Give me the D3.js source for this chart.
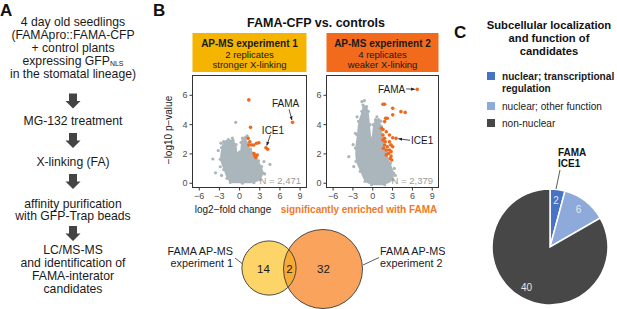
<!DOCTYPE html>
<html>
<head>
<meta charset="utf-8">
<script src="https://cdn.jsdelivr.net/npm/d3@7"></script>
<style>
  body { margin: 0; background: #fff; }
  text { font-family: "Liberation Sans", Arial, sans-serif; }
</style>
</head>
<body>
<div id="fig"></div>
<script>
// ---- data ----
var flowSteps = [
    ["4 day old seedlings", "(FAMApro::FAMA-CFP", "+ control plants", "expressing GFP|NLS", "in the stomatal lineage)"],
    ["MG-132 treatment"],
    ["X-linking (FA)"],
    ["affinity purification", "with GFP-Trap beads"],
    ["LC/MS-MS", "and identification of", "FAMA-interator", "candidates"]
];

var xTicks = [-6, -3, 0, 3, 6, 9];
var yTicks = [0, 2, 4, 6];

var experiments = ["AP-MS experiment 1", "AP-MS experiment 2"];
var replicates = ["2 replicates", "4 replicates"];
var linking = ["stronger X-linking", "weaker X-linking"];
var proteinCounts = ["N = 2,471", "N = 2,379"];

// outline of the dense grey cloud (log2 fold change, -log10 p)
var cloud1 = [[-1.3,0.02],[-1.8,0.3],[-2.3,0.9],[-2.8,1.6],[-2.6,2.4],[-2.3,2.8],[-1.6,2.95],[-0.9,2.9],[-0.45,2.6],
    [-0.15,2.0],[0.1,2.1],[0.3,2.75],[0.5,3.05],[0.95,3.1],[1.3,2.7],[1.7,2.3],[2.35,1.95],[2.9,1.5],[3.35,1.1],
    [3.6,0.65],[3.1,0.2],[2.2,0.0],[0.5,-0.03]];
var cloud2 = [[-0.1,-0.13],[-1.08,0.1],[-1.82,0.78],[-2.45,1.46],[-2.55,2.37],[-2.31,3.28],[-2.07,4.19],[-1.57,4.87],
    [-1.4,5.3],[-0.85,5.2],[-0.59,4.87],[-0.34,3.96],[-0.1,3.05],[0.15,3.96],[0.49,4.3],[0.98,4.3],[1.38,3.85],
    [1.62,3.05],[2.12,2.14],[2.76,1.34],[3.25,0.66],[3.1,0.2],[1.87,-0.13]];

// scattered grey proteins outside the cloud
var grey1 = [[-0.5,4.12],[-3.9,1.62],[-2.8,1.09],[-3.5,0.68],[4.6,1.25],[3.7,1.45],[-3.1,2.2],[-2.7,2.7],
    [1.2,3.2],[-1.0,3.05],[3.8,0.6],[-2.6,0.5]];
var grey2 = [[-3.55,1.78],[-2.55,3.37],[-1.57,5.53],[3.35,0.98],[3.5,0.5],[-2.9,2.6],[-1.2,5.6],[0.7,4.5],
    [-2.3,4.5],[2.7,2.6],[-2.8,1.1],[1.3,4.2]];

// significantly enriched proteins (orange)
var orange1 = [[1.45,5.65],[1.7,3.78],[7.95,4.12,"FAMA"],[1.35,3.03],[1.6,2.8],[1.86,2.57],[1.45,2.57],[2.2,2.57],
    [2.6,2.69],[2.95,2.73],[4.0,2.39,"ICE1"],[4.25,2.28],[2.2,2.0],[2.35,1.82],[2.7,1.89],[2.5,1.73]];
var orange2 = [[6.8,6.37,"FAMA"],[1.62,5.35],[1.87,5.35],[3.1,5.08],[4.34,4.85],[4.98,4.8],[3.1,4.63],[2.02,4.4],
    [2.27,4.4],[1.88,4.17],[1.38,3.71],[1.62,3.64],[2.12,3.48],[2.6,3.26],[3.1,3.07],[3.6,3.03,"ICE1"],[1.62,3.26],
    [1.87,3.03],[2.6,2.8],[1.62,2.91],[1.88,2.57],[2.27,2.46],[2.85,2.57],[3.1,2.46],[2.6,2.23],[2.12,2.23],
    [2.85,2.12],[2.46,2.0],[2.12,1.9],[2.85,1.82],[2.75,1.66],[2.95,1.55],[1.7,2.35],[1.96,2.8]];

var vennLabels = [["FAMA AP-MS", "experiment 1"], ["FAMA AP-MS", "experiment 2"]];
var vennCounts = [14, 2, 32];   // only exp 1, both, only exp 2

var pieTitle = ["Subcellular localization", "and function of", "candidates"];
var pieCategories = ["nuclear; transcriptional|regulation", "nuclear; other function", "non-nuclear"];
var pieValues = [2, 6, 40];
var pieColors = ["#4673c6", "#8eaadb", "#474747"];

// ---- figure ----
var width = 617,
    height = 309;

var svg = d3.select("#fig")
    .append("svg")
    .attr("width", width)
    .attr("height", height);

function panelLetter(t, x, y) {
    svg.append("text").attr("x", x).attr("y", y).text(t)
        .style("font-size", "17px").style("font-weight", "bold").style("fill", "#111");
}
panelLetter("A", 0, 16);
panelLetter("B", 153, 16);
panelLetter("C", 454, 38);

// ---- panel A: workflow ----
var flowTop = [26, 124.5, 165.5, 207.5, 254];
var arrowMid = [101, 140.5, 181.5, 233.5];
var flowX = 73;

flowSteps.forEach(function(lines, i) {
    lines.forEach(function(line, j) {
        var parts = line.split("|");
        var t = svg.append("text")
            .attr("x", flowX)
            .attr("y", flowTop[i] + j * 12.9)
            .style("font-size", "12.2px")
            .style("fill", "#1a1a1a")
            .style("text-anchor", "middle");
        t.append("tspan").text(parts[0]);
        if (parts[1]) {
            t.append("tspan").attr("dy", 1.5).style("font-size", "7px").text(parts[1]);
        }
    });
});

arrowMid.forEach(function(cy) {
    var top = cy - 7.5, neck = cy, tip = cy + 7.5;
    svg.append("path")
        .attr("d", "M" + (flowX - 4) + "," + top + "H" + (flowX + 4) + "V" + neck + "H" + (flowX + 7.5) +
            "L" + flowX + "," + tip + "L" + (flowX - 7.5) + "," + neck + "H" + (flowX - 4) + "Z")
        .style("fill", "#444");
});

// ---- panel B: volcano plots ----
svg.append("text")
    .attr("x", 316).attr("y", 27)
    .text("FAMA-CFP vs. controls")
    .style("font-size", "12.5px").style("font-weight", "bold")
    .style("text-anchor", "middle").style("fill", "#111");

svg.append("defs").append("marker")
    .attr("id", "arrowhead")
    .attr("viewBox", "0 0 10 10")
    .attr("refX", 9).attr("refY", 5)
    .attr("markerWidth", 5).attr("markerHeight", 5)
    .attr("orient", "auto")
    .append("path").attr("d", "M0,1L10,5L0,9Z").style("fill", "#222");

var plots = [
    { left: 192, right: 306, color: "#f5b400", cloud: cloud1, grey: grey1, orange: orange1,
      labels: { FAMA: { tx: -7, ty: -15, anchor: "middle", ax: -3.5, ay: -13 },
                ICE1: { tx: 7, ty: -14, anchor: "middle", ax: 4.5, ay: -13 } } },
    { left: 326, right: 438, color: "#f26b1d", cloud: cloud2, grey: grey2, orange: orange2,
      labels: { FAMA: { tx: -12, ty: 3.5, anchor: "end", ax: -11, ay: -0.5 },
                ICE1: { tx: 15, ty: 6, anchor: "start", ax: 14, ay: 2 } } }
];

var frameTop = 75, frameBottom = 187;

plots.forEach(function(p, i) {
    var x = d3.scaleLinear().domain([-7, 9.95]).range([p.left, p.right]);
    var y = d3.scaleLinear().domain([-0.29, 7.35]).range([frameBottom, frameTop]);
    var g = svg.append("g");

    // header box
    g.append("rect")
        .attr("x", p.left + 0.5).attr("y", 33)
        .attr("width", p.right - p.left).attr("height", 39)
        .style("fill", p.color);
    var cx = (p.left + p.right) / 2 + 0.5;
    g.append("text").attr("x", cx).attr("y", 46.5).text(experiments[i])
        .style("font-size", "10px").style("font-weight", "bold").style("text-anchor", "middle").style("fill", "#1a1a1a");
    g.append("text").attr("x", cx).attr("y", 57.5).text(replicates[i])
        .style("font-size", "9.5px").style("text-anchor", "middle").style("fill", "#1a1a1a");
    g.append("text").attr("x", cx).attr("y", 67.5).text(linking[i])
        .style("font-size", "9.5px").style("text-anchor", "middle").style("fill", "#1a1a1a");

    // dense cloud
    g.append("path")
        .datum(p.cloud)
        .attr("d", d3.line().x(function(d) { return x(d[0]); }).y(function(d) { return y(d[1]); })
            .curve(d3.curveCatmullRomClosed))
        .style("fill", "#aab6bc");

    // cloud edge stipple
    g.selectAll(".edge")
        .data(p.cloud)
        .enter().append("circle")
        .attr("cx", function(d) { return x(d[0]); })
        .attr("cy", function(d) { return y(d[1]); })
        .attr("r", 1.6)
        .style("fill", "#aab6bc");

    g.selectAll(".grey")
        .data(p.grey)
        .enter().append("circle")
        .attr("cx", function(d) { return x(d[0]); })
        .attr("cy", function(d) { return y(d[1]); })
        .attr("r", 1.6)
        .style("fill", "#aab6bc");

    g.selectAll(".sig")
        .data(p.orange)
        .enter().append("circle")
        .attr("cx", function(d) { return x(d[0]); })
        .attr("cy", function(d) { return y(d[1]); })
        .attr("r", 1.8)
        .style("fill", "#f0681a");

    // labels with arrows
    p.orange.filter(function(d) { return d[2]; }).forEach(function(d) {
        var l = p.labels[d[2]];
        var px = x(d[0]), py = y(d[1]);
        g.append("text")
            .attr("x", px + l.tx).attr("y", py + l.ty)
            .text(d[2])
            .style("font-size", "10px").style("text-anchor", l.anchor).style("fill", "#1a1a1a");
        var len = Math.sqrt(l.ax * l.ax + l.ay * l.ay);
        g.append("line")
            .attr("x1", px + l.ax).attr("y1", py + l.ay)
            .attr("x2", px + l.ax * 2.5 / len).attr("y2", py + l.ay * 2.5 / len)
            .style("stroke", "#222").style("stroke-width", 0.8)
            .attr("marker-end", "url(#arrowhead)");
    });

    g.append("text")
        .attr("x", p.right - 5).attr("y", 184)
        .text(proteinCounts[i])
        .style("font-size", "9.5px").style("text-anchor", "end").style("fill", "#9a9a9a");

    // frame
    g.append("rect")
        .attr("x", p.left + 0.5).attr("y", frameTop + 0.5)
        .attr("width", p.right - p.left).attr("height", frameBottom - frameTop)
        .style("fill", "none").style("stroke", "#333").style("stroke-width", 1);

    var ya = g.append("g")
        .attr("transform", "translate(" + (p.left + 0.5) + ",0)")
        .call(d3.axisLeft(y).tickValues(yTicks).tickSize(3).tickPadding(2));
    var xa = g.append("g")
        .attr("transform", "translate(0," + (frameBottom + 0.5) + ")")
        .call(d3.axisBottom(x).tickValues(xTicks).tickSize(3).tickPadding(2));
    [ya, xa].forEach(function(a) {
        a.select(".domain").remove();
        a.selectAll("line").style("stroke", "#333");
        a.selectAll("text").style("font-size", "9px").style("fill", "#4d4d4d")
            .style("font-family", "\"Liberation Sans\", Arial, sans-serif");
    });
});

svg.append("text")
    .attr("transform", "translate(172,130) rotate(-90)")
    .text("\u2212log10 p\u2212value")
    .style("font-size", "10px").style("text-anchor", "middle").style("fill", "#1a1a1a");

svg.append("text")
    .attr("x", 233).attr("y", 213)
    .text("log2\u2212fold change")
    .style("font-size", "10px").style("text-anchor", "middle").style("fill", "#1a1a1a");

svg.append("text")
    .attr("x", 359).attr("y", 213)
    .text("significantly enriched with FAMA")
    .style("font-size", "10px").style("font-weight", "bold").style("text-anchor", "middle").style("fill", "#f07a2a");

// ---- Venn diagram ----
var setSizes = [vennCounts[0] + vennCounts[1], vennCounts[2] + vennCounts[1]];
var rScale = d3.scaleSqrt().domain([0, d3.max(setSizes)]).range([0, 39.5]);
var vennCircles = [
    { cx: 269, cy: 268, r: rScale(setSizes[0]), fill: "#fdd467" },
    { cx: 323, cy: 269, r: rScale(setSizes[1]), fill: "#f9a35c" }
];

svg.select("defs").append("clipPath").attr("id", "clipA")
    .append("circle").attr("cx", vennCircles[0].cx).attr("cy", vennCircles[0].cy).attr("r", vennCircles[0].r);

svg.selectAll(".venn")
    .data(vennCircles)
    .enter().append("circle")
    .attr("cx", function(d) { return d.cx; })
    .attr("cy", function(d) { return d.cy; })
    .attr("r", function(d) { return d.r; })
    .style("fill", function(d) { return d.fill; });

svg.append("circle")
    .attr("cx", vennCircles[1].cx).attr("cy", vennCircles[1].cy).attr("r", vennCircles[1].r)
    .attr("clip-path", "url(#clipA)")
    .style("fill", "#f5ab35");

svg.selectAll(".vennEdge")
    .data(vennCircles)
    .enter().append("circle")
    .attr("cx", function(d) { return d.cx; })
    .attr("cy", function(d) { return d.cy; })
    .attr("r", function(d) { return d.r; })
    .style("fill", "none").style("stroke", "#3a3a3a").style("stroke-width", 0.9);

var countX = [263.5, 289.5, 323.5];
vennCounts.forEach(function(c, i) {
    svg.append("text").attr("x", countX[i]).attr("y", 273).text(c)
        .style("font-size", "11.5px").style("text-anchor", "middle").style("fill", "#1a1a1a");
});

vennLabels.forEach(function(lines, i) {
    lines.forEach(function(line, j) {
        svg.append("text")
            .attr("x", i === 0 ? 233 : 380).attr("y", 255 + j * 11.5)
            .text(line)
            .style("font-size", "10.8px").style("text-anchor", i === 0 ? "end" : "start").style("fill", "#1a1a1a");
    });
});
svg.append("line").attr("x1", 235).attr("y1", 258).attr("x2", 242).attr("y2", 263.5)
    .style("stroke", "#333").style("stroke-width", 0.8);
svg.append("line").attr("x1", 363).attr("y1", 265).attr("x2", 379).attr("y2", 257.5)
    .style("stroke", "#333").style("stroke-width", 0.8);

// ---- panel C: pie ----
pieTitle.forEach(function(line, j) {
    svg.append("text").attr("x", 549).attr("y", 29 + j * 12.8).text(line)
        .style("font-size", "11.2px").style("font-weight", "bold").style("text-anchor", "middle").style("fill", "#111");
});

var legendY = [76, 106, 123];
pieCategories.forEach(function(cat, i) {
    svg.append("rect").attr("x", 487).attr("y", legendY[i] - 4).attr("width", 8).attr("height", 8)
        .style("fill", pieColors[i]);
    cat.split("|").forEach(function(line, j) {
        svg.append("text").attr("x", 502).attr("y", legendY[i] + 3.5 + j * 12).text(line)
            .style("font-size", "10.1px").style("font-weight", i === 0 ? "bold" : "normal").style("fill", "#1a1a1a");
    });
});

var pieCx = 550, pieCy = 247;
var pie = d3.pie().sort(null).value(function(d) { return d; });
var arc = d3.arc().innerRadius(0).outerRadius(58);
var labelArc = d3.arc().innerRadius(47).outerRadius(47);

var pg = svg.append("g").attr("transform", "translate(" + pieCx + "," + pieCy + ")");
pg.selectAll("path")
    .data(pie(pieValues))
    .enter().append("path")
    .attr("d", arc)
    .style("fill", function(d, i) { return pieColors[i]; })
    .style("stroke", "#fff").style("stroke-width", 1.5);

pg.selectAll(".lab")
    .data(pie(pieValues))
    .enter().append("text")
    .attr("transform", function(d) { return "translate(" + labelArc.centroid(d) + ")"; })
    .attr("dy", "0.35em")
    .text(function(d) { return d.data; })
    .style("font-size", "10px").style("text-anchor", "middle").style("fill", "#e8e8e8");

["FAMA", "ICE1"].forEach(function(t, j) {
    svg.append("text").attr("x", 558).attr("y", 155.5 + j * 11.5).text(t)
        .style("font-size", "10px").style("font-weight", "bold").style("fill", "#111");
});
svg.append("line").attr("x1", 560).attr("y1", 170).attr("x2", 556).attr("y2", 189)
    .style("stroke", "#333").style("stroke-width", 0.8);
</script>
</body>
</html>
